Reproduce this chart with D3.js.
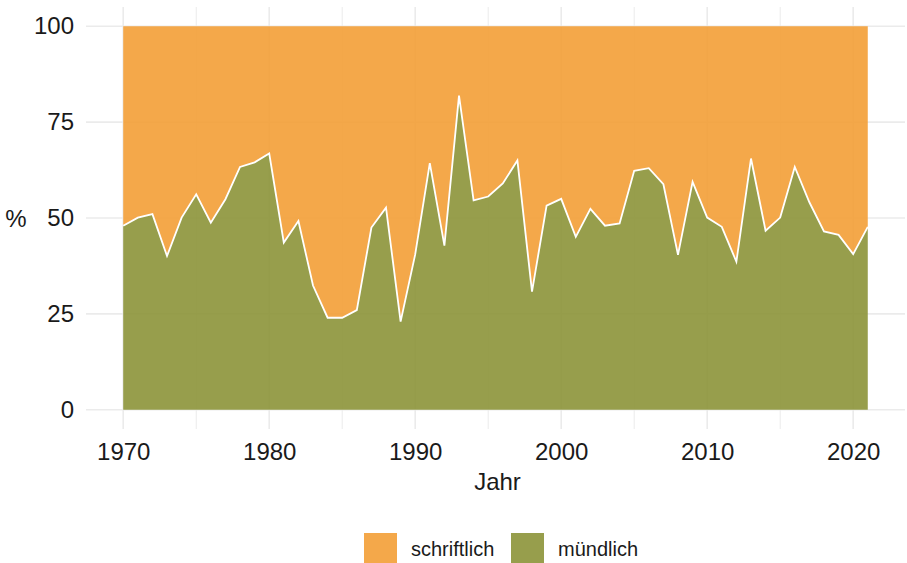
<!DOCTYPE html>
<html>
<head>
<meta charset="utf-8">
<script src="https://cdn.jsdelivr.net/npm/d3@7"></script>
<style>
body { margin: 0; background: #fff; }
.tick text { font-family: "Liberation Sans", Arial, sans-serif; }
</style>
</head>
<body>
<svg id="chart" width="907" height="563"></svg>
<script>
// Jahre und Anteil mündlich (%), Rest schriftlich
var years = d3.range(1970, 2022);
var muendlich = [
	48.0, 50.1, 51.0, 40.1, 50.1, 56.2, 48.8, 54.9, 63.3, 64.5,
	66.8, 43.6, 49.2, 32.4, 24.0, 24.0, 26.0, 47.5, 52.7, 23.0,
	40.5, 64.3, 42.8, 81.9, 54.6, 55.6, 59.0, 65.0, 30.8, 53.2,
	55.0, 45.1, 52.4, 48.0, 48.6, 62.3, 63.0, 58.8, 40.4, 59.4,
	50.1, 47.7, 38.6, 65.5, 46.7, 50.1, 63.3, 54.1, 46.5, 45.6,
	40.6, 47.7
];
var xTicks = [1970, 1980, 1990, 2000, 2010, 2020];
var xMinor = [1975, 1985, 1995, 2005, 2015];
var yTicks = [0, 25, 50, 75, 100];
var legendLabels = ["schriftlich", "mündlich"];
var colors = { schriftlich: "#f39e36", "mündlich": "#8c9439" };

var data = years.map(function(y, i){ return { year: y, m: muendlich[i] }; });

var svg = d3.select("#chart");
var pLeft = 86, pRight = 905, pTop = 7, pBottom = 429;

var x = d3.scaleLinear().domain([1967.45, 2023.55]).range([pLeft, pRight]);
var y = d3.scaleLinear().domain([-5, 105]).range([pBottom, pTop]);

// Gitter
var grid = svg.append("g");
grid.selectAll(".gx").data(xMinor).enter().append("line")
	.attr("x1", function(d){ return x(d); }).attr("x2", function(d){ return x(d); })
	.attr("y1", pTop).attr("y2", pBottom)
	.attr("stroke", "#ebebeb").attr("stroke-width", 1);
grid.selectAll(".gX").data(xTicks).enter().append("line")
	.attr("x1", function(d){ return x(d); }).attr("x2", function(d){ return x(d); })
	.attr("y1", pTop).attr("y2", pBottom)
	.attr("stroke", "#ebebeb").attr("stroke-width", 1.6);
grid.selectAll(".gy").data(yTicks).enter().append("line")
	.attr("x1", pLeft).attr("x2", pRight)
	.attr("y1", function(d){ return y(d); }).attr("y2", function(d){ return y(d); })
	.attr("stroke", "#ebebeb").attr("stroke-width", 1.6);

// Flächen
var areaTop = d3.area()
	.x(function(d){ return x(d.year); })
	.y0(function(d){ return y(d.m); })
	.y1(function(){ return y(100); });
var areaBottom = d3.area()
	.x(function(d){ return x(d.year); })
	.y0(function(){ return y(0); })
	.y1(function(d){ return y(d.m); });

svg.append("path").datum(data).attr("d", areaTop)
	.attr("fill", colors.schriftlich).attr("fill-opacity", 0.9);
svg.append("path").datum(data).attr("d", areaBottom)
	.attr("fill", colors["mündlich"]).attr("fill-opacity", 0.9);

svg.append("path").datum(data)
	.attr("d", d3.line().x(function(d){ return x(d.year); }).y(function(d){ return y(d.m); }))
	.attr("fill", "none").attr("stroke", "#fff").attr("stroke-width", 1.8);

// Achsen
var xAxis = svg.append("g").attr("transform", "translate(0," + pBottom + ")")
	.call(d3.axisBottom(x).tickValues(xTicks).tickFormat(d3.format("d")).tickSize(0).tickPadding(14));
var yAxis = svg.append("g").attr("transform", "translate(" + pLeft + ",0)")
	.call(d3.axisLeft(y).tickValues(yTicks).tickSize(0).tickPadding(12));
[xAxis, yAxis].forEach(function(a){
	a.select(".domain").remove();
	a.selectAll("text").attr("font-size", 24).attr("fill", "#1a1a1a");
});

svg.append("text").attr("x", x(1995.5) + 2).attr("y", 490)
	.attr("text-anchor", "middle").attr("font-family", "Liberation Sans, Arial, sans-serif")
	.attr("font-size", 24).attr("fill", "#1a1a1a").text("Jahr");
svg.append("text").attr("x", 16).attr("y", y(50) + 9)
	.attr("text-anchor", "middle").attr("font-family", "Liberation Sans, Arial, sans-serif")
	.attr("font-size", 24).attr("fill", "#1a1a1a").text("%");

// Legende
var leg = svg.append("g");
var legX = [364, 511];
legendLabels.forEach(function(l, i){
	leg.append("rect").attr("x", legX[i]).attr("y", 533).attr("width", 33).attr("height", 30)
		.attr("fill", colors[l]).attr("fill-opacity", 0.9);
	leg.append("text").attr("x", legX[i] + 47).attr("y", 556)
		.attr("font-family", "Liberation Sans, Arial, sans-serif").attr("font-size", 20)
		.attr("fill", "#1a1a1a").text(l);
});
</script>
</body>
</html>
